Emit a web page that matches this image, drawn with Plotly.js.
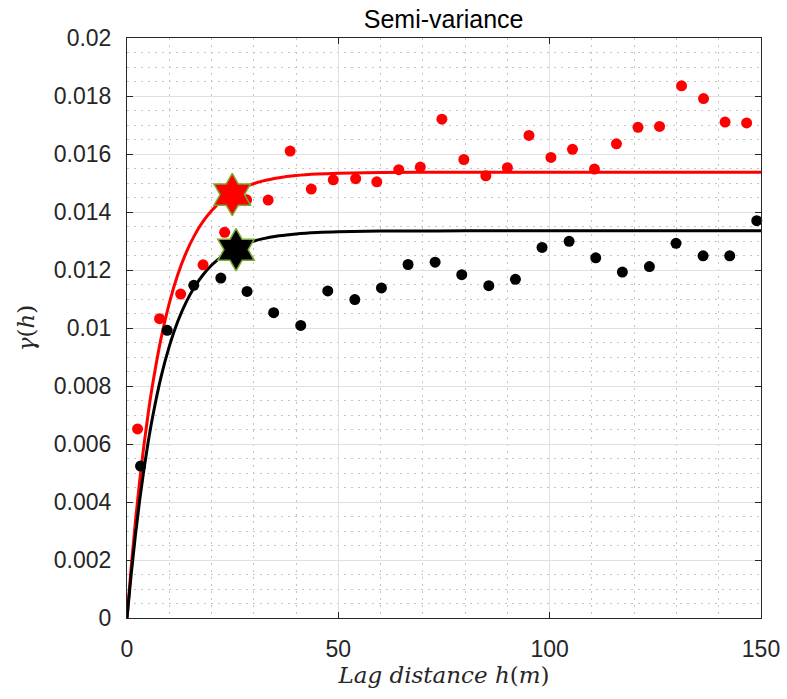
<!DOCTYPE html>
<html>
<head>
<meta charset="utf-8">
<script src="https://cdn.plot.ly/plotly-3.0.1.min.js"></script>
<style>
html,body{margin:0;padding:0;background:#fff;}
#chart{width:787px;height:699px;}
</style>
</head>
<body>
<div id="chart"></div>
<script>
// Experimental semi-variance (red series)
const redLag = [2.5, 7.7, 12.7, 18.0, 23.1, 28.3, 33.4, 38.6, 43.6, 48.8, 54.1, 59.1, 64.3, 69.4, 74.5,
                79.7, 84.9, 90.0, 95.1, 100.3, 105.4, 110.6, 115.8, 120.9, 126.0, 131.2, 136.4, 141.5, 146.6];
const redGamma = [0.00652, 0.01032, 0.01117, 0.01218, 0.01330, 0.01442, 0.01441, 0.01610, 0.01479, 0.01511,
                  0.01515, 0.01504, 0.01546, 0.01555, 0.01720, 0.01581, 0.01525, 0.01553, 0.01664, 0.01588,
                  0.01616, 0.01548, 0.01635, 0.01692, 0.01695, 0.01835, 0.01791, 0.01710, 0.01707];

// Experimental semi-variance (black series)
const blackLag = [3.2, 9.5, 15.8, 22.2, 28.4, 34.7, 41.1, 47.5, 53.9, 60.2, 66.5, 72.9,
                  79.2, 85.6, 91.9, 98.2, 104.6, 110.9, 117.2, 123.6, 129.9, 136.3, 142.6, 149.0];
const blackGamma = [0.00524, 0.00992, 0.01147, 0.01172, 0.01126, 0.01053, 0.01009, 0.01128, 0.01098, 0.01138,
                    0.01219, 0.01227, 0.01184, 0.01146, 0.01168, 0.01278, 0.01299, 0.01242, 0.01193, 0.01212,
                    0.01292, 0.01249, 0.01249, 0.01370];

// Fitted model curves
const modelLag = [0, 1, 2, 3, 4, 5, 6, 8, 10, 12, 14, 16, 18, 20, 22, 25, 28, 32, 36, 40, 45, 50, 60, 70, 80, 100, 125, 150];
const redModel = [0, 0.001771, 0.003339, 0.004726, 0.005952, 0.007037, 0.007998, 0.009599, 0.010852, 0.011834,
                  0.012602, 0.013203, 0.013674, 0.014042, 0.014331, 0.014650, 0.014871, 0.015065, 0.015183, 0.015255,
                  0.015308, 0.015336, 0.015360, 0.015368, 0.01537, 0.01537, 0.01537, 0.01537];
const blackModel = [0, 0.001521, 0.002869, 0.004063, 0.005121, 0.006059, 0.006890, 0.008278, 0.009368, 0.010223,
                    0.010895, 0.011423, 0.011837, 0.012162, 0.012418, 0.012701, 0.012899, 0.013072, 0.013179, 0.013244,
                    0.013292, 0.013318, 0.013341, 0.013348, 0.01335, 0.01335, 0.01335, 0.01335];

// Practical range markers
const redRange = [24.9];
const redRangeGamma = [0.0146];
const blackRange = [25.8];
const blackRangeGamma = [0.0127];

const xTicks = [0, 50, 100, 150];
const yTicks = [0, 0.002, 0.004, 0.006, 0.008, 0.01, 0.012, 0.014, 0.016, 0.018, 0.02];
const yTickText = ['0', '0.002', '0.004', '0.006', '0.008', '0.01', '0.012', '0.014', '0.016', '0.018', '0.02'];

const traces = [
  {x: modelLag, y: redModel, type: 'scatter', mode: 'lines', line: {color: '#ff0000', width: 3, shape: 'spline'}, hoverinfo: 'skip'},
  {x: modelLag, y: blackModel, type: 'scatter', mode: 'lines', line: {color: '#000000', width: 3, shape: 'spline'}, hoverinfo: 'skip'},
  {x: redLag, y: redGamma, type: 'scatter', mode: 'markers', marker: {color: '#ff0000', size: 11}, cliponaxis: false},
  {x: blackLag, y: blackGamma, type: 'scatter', mode: 'markers', marker: {color: '#000000', size: 11}, cliponaxis: false},
  {x: redRange, y: redRangeGamma, type: 'scatter', mode: 'markers',
   marker: {symbol: 'hexagram', size: 32, color: '#ff0000', line: {color: '#77ac30', width: 1.5}}},
  {x: blackRange, y: blackRangeGamma, type: 'scatter', mode: 'markers',
   marker: {symbol: 'hexagram', size: 32, color: '#000000', line: {color: '#77ac30', width: 1.5}}}
];

const axisCommon = {
  showline: true, linecolor: '#262626', linewidth: 1, mirror: 'ticks',
  ticks: 'inside', ticklen: 6, tickcolor: '#262626', tickwidth: 1,
  showgrid: true, gridcolor: '#e0e0e0', gridwidth: 1,
  zeroline: false,
  tickfont: {family: 'Liberation Sans, Arial, sans-serif', size: 23, color: '#262626'},
  ticklabelstandoff: 10
};

const layout = {
  width: 787, height: 699,
  margin: {l: 126.5, r: 26.3, t: 38.3, b: 80.7, pad: 0},
  paper_bgcolor: '#ffffff', plot_bgcolor: '#ffffff',
  showlegend: false,
  title: {text: 'Semi-variance', font: {family: 'Liberation Sans, Arial, sans-serif', size: 25, color: '#000000'},
          x: 0.5637, xanchor: 'center', y: 0.973, yanchor: 'middle'},
  xaxis: Object.assign({}, axisCommon, {
    range: [0, 150], tickvals: xTicks, ticktext: xTicks.map(String),
    minor: {dtick: 10, showgrid: true, gridcolor: '#c4c4c4', griddash: '2px,5px', gridwidth: 1, ticks: ''},
    title: {text: '<i>Lag distance h</i>(<i>m</i>)', standoff: 4,
            font: {family: 'DejaVu Serif, serif', size: 23, color: '#262626'}}
  }),
  yaxis: Object.assign({}, axisCommon, {
    range: [0, 0.02], tickvals: yTicks, ticktext: yTickText,
    minor: {dtick: 0.0005, showgrid: true, gridcolor: '#c4c4c4', griddash: '2px,5px', gridwidth: 1, ticks: ''},
    title: {text: '<i>γ</i>(<i>h</i>)', standoff: 12,
            font: {family: 'DejaVu Serif, serif', size: 23, color: '#262626'}}
  })
};

Plotly.newPlot('chart', traces, layout, {staticPlot: true, displayModeBar: false});
</script>
</body>
</html>
